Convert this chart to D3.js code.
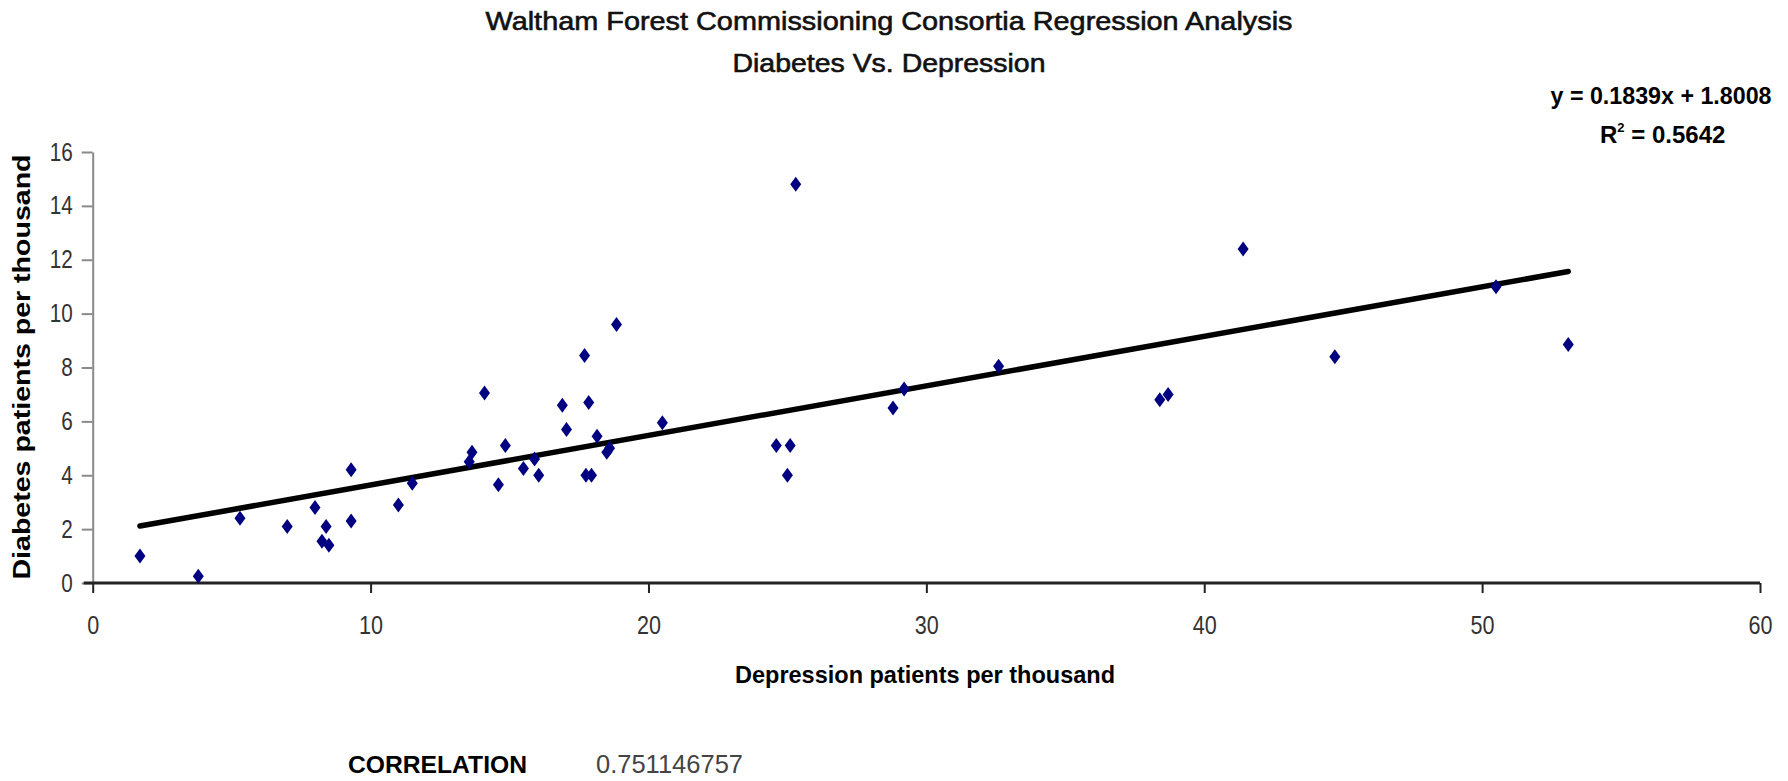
<!DOCTYPE html>
<html>
<head>
<meta charset="utf-8">
<script src="https://cdn.jsdelivr.net/npm/d3@7"></script>
<style>
    body { margin: 0; background: #fff; }
    text { font-family: "Liberation Sans", Arial, sans-serif; }
</style>
</head>
<body>
<div id="regressionChart"></div>
<script>
// Diabetes vs depression regression scatter

// depression patients per thousand (x) for each practice
const depression = [1.7, 3.8, 5.3, 7.0, 8.0, 8.4, 8.25, 8.5, 9.3, 9.3,
    11.0, 11.5, 13.55, 13.65, 14.1, 14.6, 14.85, 15.5, 15.9, 16.05,
    16.9, 17.05, 17.7, 17.85, 17.75, 17.95, 18.15, 18.5, 18.6, 18.85,
    20.5, 25.3, 24.6, 25.1, 25.0, 28.8, 29.2, 32.6, 38.4, 38.7,
    41.4, 44.7, 50.5, 53.1];
// diabetes patients per thousand (y), same order
const diabetes = [1.0, 0.25, 2.4, 2.1, 2.8, 2.1, 1.55, 1.4, 4.2, 2.3,
    2.9, 3.7, 4.5, 4.85, 7.05, 3.65, 5.1, 4.25, 4.6, 4.0,
    6.6, 5.7, 8.45, 6.7, 4.0, 4.0, 5.45, 4.85, 5.0, 9.6,
    5.95, 14.8, 5.1, 5.1, 4.0, 6.5, 7.2, 8.05, 6.8, 7.0,
    12.4, 8.4, 11.0, 8.85];

// trend line from the spreadsheet: y = slope * x + intercept
const trendSlope = 0.1839;
const trendIntercept = 1.8008;

const xTicks = [0, 10, 20, 30, 40, 50, 60];
const yTicks = [0, 2, 4, 6, 8, 10, 12, 14, 16];

const titleLines = ["Waltham Forest Commissioning Consortia Regression Analysis", "Diabetes Vs. Depression"];
const equationText = "y = 0.1839x + 1.8008";
const rSquaredText = "0.5642";
const correlationLabel = "CORRELATION";
const correlationValue = "0.751146757";


class RegressionChart {

    constructor(w, h, container) {
        this.w = w;
        this.h = h;
        this.container = container;
        this.left = 92.7;
        this.right = 1760;
        this.top = 152;
        this.bottom = 583;
        this.svg = null;
        this.xScale = null;
        this.yScale = null;

        this.setup_svg(container);
        this.setup_axes();
        this.setup_text();
    }

    setup_svg(container) {
        this.svg = container.append("svg")
            .attr("width", this.w)
            .attr("height", this.h);

        this.xScale = d3.scaleLinear()
            .domain([0, 60])
            .range([this.left, this.right]);

        this.yScale = d3.scaleLinear()
            .domain([0, 16])
            .range([this.bottom, this.top]);
    }

    setup_axes() {
        let svg = this.svg;

        // y axis is grey and thin
        let yAxis = d3.axisLeft(this.yScale)
            .tickValues(yTicks)
            .tickSize(11)
            .tickPadding(9)
            .tickSizeOuter(0);
        let gy = svg.append("g")
            .attr("id", "y_axis")
            .attr("transform", "translate(" + this.left + ",0)")
            .call(yAxis);
        gy.select(".domain").attr("stroke", "#8a8a8a").attr("stroke-width", 2);
        gy.selectAll(".tick line").attr("stroke", "#8a8a8a").attr("stroke-width", 2);
        gy.selectAll(".tick text")
            .style("font-size", "25px")
            .attr("fill", "#333")
            .attr("textLength", function(d) { return String(d).length * 11.5; })
            .attr("lengthAdjust", "spacingAndGlyphs");

        // x axis is darker and heavier
        let xAxis = d3.axisBottom(this.xScale)
            .tickValues(xTicks)
            .tickSize(10)
            .tickPadding(23)
            .tickSizeOuter(0);
        let gx = svg.append("g")
            .attr("id", "x_axis")
            .attr("transform", "translate(0," + this.bottom + ")")
            .call(xAxis);
        gx.select(".domain")
            .attr("d", "M" + (this.left - 9) + ",0H" + this.right)
            .attr("stroke", "#222")
            .attr("stroke-width", 3);
        gx.selectAll(".tick line").attr("stroke", "#222").attr("stroke-width", 2);
        gx.selectAll(".tick text")
            .style("font-size", "25px")
            .attr("fill", "#333")
            .attr("textLength", function(d) { return String(d).length * 12; })
            .attr("lengthAdjust", "spacingAndGlyphs");

        svg.append("text")
            .attr("id", "ylabel")
            .attr("transform", "translate(30,367) rotate(-90)")
            .attr("text-anchor", "middle")
            .style("font-size", "24px")
            .style("font-weight", "bold")
            .attr("textLength", 425)
            .attr("lengthAdjust", "spacingAndGlyphs")
            .text("Diabetes patients per thousand");

        svg.append("text")
            .attr("id", "xlabel")
            .attr("x", 925)
            .attr("y", 683)
            .attr("text-anchor", "middle")
            .style("font-size", "24px")
            .style("font-weight", "bold")
            .attr("textLength", 380)
            .attr("lengthAdjust", "spacingAndGlyphs")
            .text("Depression patients per thousand");
    }

    setup_text() {
        let svg = this.svg;
        let titleY = [30, 72];
        let titleW = [807, 313];

        svg.selectAll(".title")
            .data(titleLines)
            .enter().append("text")
            .attr("class", "title")
            .attr("x", 889)
            .attr("y", function(d, i) { return titleY[i]; })
            .attr("text-anchor", "middle")
            .style("font-size", "26px")
            .attr("fill", "#111")
            .attr("stroke", "#111")
            .attr("stroke-width", 0.6)
            .attr("textLength", function(d, i) { return titleW[i]; })
            .attr("lengthAdjust", "spacingAndGlyphs")
            .text(function(d) { return d; });

        svg.append("text")
            .attr("x", 1661)
            .attr("y", 104)
            .attr("text-anchor", "middle")
            .style("font-size", "24px")
            .style("font-weight", "bold")
            .attr("textLength", 221)
            .attr("lengthAdjust", "spacingAndGlyphs")
            .text(equationText);

        let r2 = svg.append("text")
            .attr("x", 1600)
            .attr("y", 143)
            .style("font-size", "24px")
            .style("font-weight", "bold");
        r2.append("tspan").text("R");
        r2.append("tspan").attr("dy", -11).style("font-size", "13px").text("2");
        r2.append("tspan").attr("dy", 11).text(" = " + rSquaredText);

        svg.append("text")
            .attr("x", 348)
            .attr("y", 773)
            .style("font-size", "24px")
            .style("font-weight", "bold")
            .attr("textLength", 179)
            .attr("lengthAdjust", "spacingAndGlyphs")
            .text(correlationLabel);

        svg.append("text")
            .attr("x", 596)
            .attr("y", 773)
            .style("font-size", "25px")
            .attr("fill", "#444")
            .attr("textLength", 147)
            .attr("lengthAdjust", "spacingAndGlyphs")
            .text(correlationValue);
    }

    draw_trend() {
        let xScale = this.xScale;
        let yScale = this.yScale;
        let ext = d3.extent(depression);
        let line = d3.line()
            .x(function(d) { return xScale(d); })
            .y(function(d) { return yScale(trendSlope * d + trendIntercept); });

        this.svg.append("path")
            .datum(ext)
            .attr("d", line)
            .attr("fill", "none")
            .attr("stroke", "#000")
            .attr("stroke-width", 5.5)
            .attr("stroke-linecap", "round");
    }

    draw_points() {
        let xScale = this.xScale;
        let yScale = this.yScale;
        let pts = depression.map(function(x, i) { return {x: x, y: diabetes[i]}; });

        // excel style diamond, a bit taller than wide
        this.svg.append("g")
            .selectAll("path")
            .data(pts)
            .enter().append("path")
            .attr("d", "M0,-7.5L5.5,0L0,7.5L-5.5,0Z")
            .attr("transform", function(d) { return "translate(" + xScale(d.x) + "," + yScale(d.y) + ")"; })
            .attr("fill", "#000080");
    }
}

let div = d3.select("#regressionChart");
let chart = new RegressionChart(1788, 781, div);
chart.draw_trend();
chart.draw_points();
</script>
</body>
</html>
